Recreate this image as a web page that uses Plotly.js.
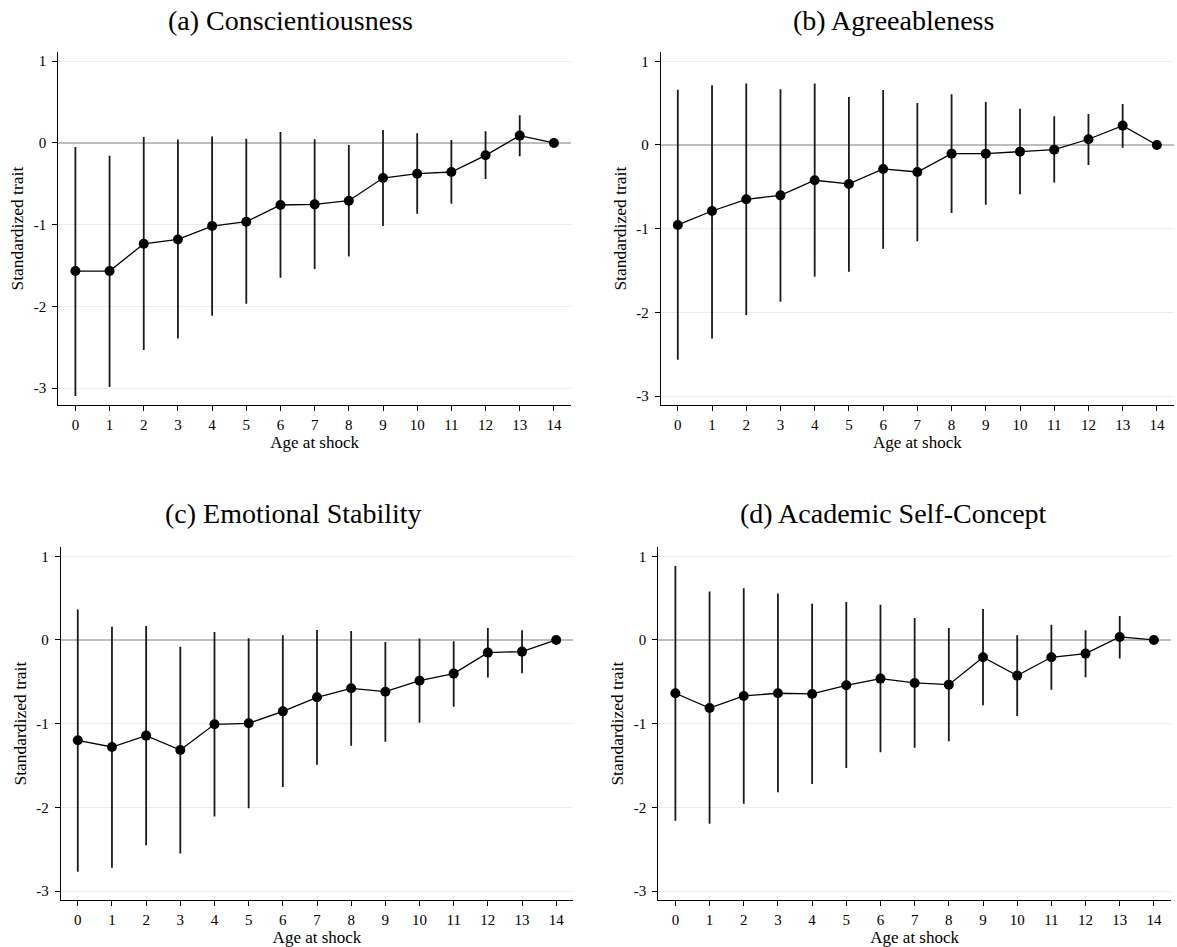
<!DOCTYPE html>
<html>
<head>
<meta charset="utf-8">
<script src="https://cdn.plot.ly/plotly-3.0.1.min.js"></script>
<style>
  html, body { margin: 0; padding: 0; background: #ffffff; }
  #chart { width: 1177px; height: 947px; }
</style>
</head>
<body>
<div id="chart"></div>
<script>
// ---- Data ----
const ages = [0, 1, 2, 3, 4, 5, 6, 7, 8, 9, 10, 11, 12, 13, 14];
const xTickLabels = ['0','1','2','3','4','5','6','7','8','9','10','11','12','13','14'];
const yTickVals = [-3, -2, -1, 0, 1];
const yTickLabels = ['-3', '-2', '-1', '0', '1'];

const panelTitles = ['(a) Conscientiousness', '(b) Agreeableness', '(c) Emotional Stability', '(d) Academic Self-Concept'];

const conscEst = [-1.567, -1.567, -1.233, -1.180, -1.016, -0.963, -0.759, -0.751, -0.706, -0.429, -0.376, -0.355, -0.151, 0.090, 0];
const conscLo  = [-3.094, -2.984, -2.531, -2.392, -2.114, -1.967, -1.649, -1.543, -1.388, -1.016, -0.865, -0.743, -0.441, -0.163, 0];
const conscHi  = [-0.049, -0.155, 0.073, 0.041, 0.078, 0.053, 0.135, 0.045, -0.024, 0.159, 0.118, 0.037, 0.143, 0.339, 0];

const agreeEst = [-0.956, -0.789, -0.649, -0.602, -0.422, -0.466, -0.287, -0.323, -0.104, -0.104, -0.080, -0.056, 0.068, 0.231, 0];
const agreeLo  = [-2.566, -2.311, -2.032, -1.873, -1.574, -1.514, -1.239, -1.151, -0.813, -0.713, -0.590, -0.450, -0.239, -0.032, 0];
const agreeHi  = [0.661, 0.713, 0.733, 0.665, 0.733, 0.574, 0.657, 0.502, 0.606, 0.514, 0.434, 0.343, 0.371, 0.490, 0];

const emotEst = [-1.199, -1.279, -1.143, -1.315, -1.008, -0.996, -0.853, -0.685, -0.578, -0.618, -0.486, -0.402, -0.151, -0.139, 0];
const emotLo  = [-2.769, -2.721, -2.454, -2.550, -2.108, -2.012, -1.757, -1.490, -1.263, -1.215, -0.988, -0.797, -0.450, -0.398, 0];
const emotHi  = [0.363, 0.159, 0.167, -0.080, 0.096, 0.020, 0.056, 0.120, 0.108, -0.024, 0.016, -0.016, 0.143, 0.116, 0];

const acadEst = [-0.637, -0.813, -0.669, -0.637, -0.645, -0.542, -0.462, -0.514, -0.534, -0.207, -0.426, -0.207, -0.163, 0.036, 0];
const acadLo  = [-2.159, -2.195, -1.956, -1.821, -1.721, -1.530, -1.343, -1.287, -1.211, -0.781, -0.908, -0.594, -0.446, -0.223, 0];
const acadHi  = [0.884, 0.578, 0.618, 0.554, 0.434, 0.454, 0.422, 0.263, 0.143, 0.371, 0.056, 0.183, 0.116, 0.287, 0];

const panels = [
  {est: conscEst, lo: conscLo, hi: conscHi},
  {est: agreeEst, lo: agreeLo, hi: agreeHi},
  {est: emotEst,  lo: emotLo,  hi: emotHi},
  {est: acadEst,  lo: acadLo,  hi: acadHi}
];

// ---- Layout geometry ----
const W = 1177, H = 947;
const px = (a, b) => [a / W, b / W];
const py = (top, bottom) => [1 - bottom / H, 1 - top / H];
const xDomains = [px(58.3, 571), px(660.7, 1174), px(60.7, 573.3), px(658.3, 1171)];
const yDomains = [py(52.3, 405), py(52.3, 405), py(547.3, 900), py(547.3, 900)];
const yRanges = [[-3.205, 1.109], [-3.107, 1.107], [-3.107, 1.107], [-3.107, 1.107]];
const titlePos = [[290, 20], [893, 20], [293, 513], [893, 513]];

const serif = 'Liberation Serif, Times New Roman, serif';

const traces = [];
const layout = {
  width: W, height: H,
  margin: {l: 0, r: 0, t: 0, b: 0},
  paper_bgcolor: '#ffffff',
  plot_bgcolor: '#ffffff',
  showlegend: false,
  font: {family: serif, color: '#000000', size: 15},
  annotations: []
};

panels.forEach((p, i) => {
  const n = i + 1;
  const xa = n === 1 ? 'x' : 'x' + n;
  const ya = n === 1 ? 'y' : 'y' + n;
  traces.push({
    type: 'scatter',
    mode: 'lines+markers',
    x: ages,
    y: p.est,
    xaxis: xa, yaxis: ya,
    line: {color: '#000000', width: 1.3},
    marker: {color: '#000000', size: 10, symbol: 'circle'},
    error_y: {
      type: 'data',
      symmetric: false,
      array: p.hi.map((h, k) => h - p.est[k]),
      arrayminus: p.est.map((e, k) => e - p.lo[k]),
      color: '#1a1a1a',
      thickness: 1.8,
      width: 0
    },
    hoverinfo: 'x+y'
  });

  const xKey = n === 1 ? 'xaxis' : 'xaxis' + n;
  const yKey = n === 1 ? 'yaxis' : 'yaxis' + n;
  layout[xKey] = {
    domain: xDomains[i],
    anchor: ya,
    range: [-0.5, 14.5],
    tickmode: 'array',
    tickvals: ages,
    ticktext: xTickLabels,
    ticks: 'outside',
    ticklen: 5,
    tickwidth: 1,
    tickcolor: '#000000',
    ticklabelstandoff: 1,
    tickfont: {family: serif, size: 15, color: '#000000'},
    showgrid: false,
    zeroline: false,
    showline: true,
    linecolor: '#000000',
    linewidth: 1,
    title: {text: 'Age at shock', font: {family: serif, size: 17, color: '#000000'}, standoff: 3}
  };
  layout[yKey] = {
    domain: yDomains[i],
    anchor: xa,
    range: yRanges[i],
    tickmode: 'array',
    tickvals: yTickVals,
    ticktext: yTickLabels,
    ticks: 'outside',
    ticklen: 5,
    tickwidth: 1,
    tickcolor: '#000000',
    ticklabelstandoff: 3,
    tickfont: {family: serif, size: 15, color: '#000000'},
    showgrid: true,
    gridcolor: '#ececec',
    gridwidth: 1,
    zeroline: true,
    zerolinecolor: '#bdbdbd',
    zerolinewidth: 2,
    showline: true,
    linecolor: '#000000',
    linewidth: 1,
    title: {text: 'Standardized trait', font: {family: serif, size: 17.5, color: '#000000'}, standoff: 5}
  };
  layout.annotations.push({
    text: panelTitles[i],
    xref: 'paper', yref: 'paper',
    x: titlePos[i][0] / W, y: 1 - titlePos[i][1] / H,
    xanchor: 'center', yanchor: 'middle',
    showarrow: false,
    font: {family: serif, size: 28, color: '#000000'}
  });
});

Plotly.newPlot('chart', traces, layout, {displayModeBar: false, staticPlot: true});
</script>
</body>
</html>
